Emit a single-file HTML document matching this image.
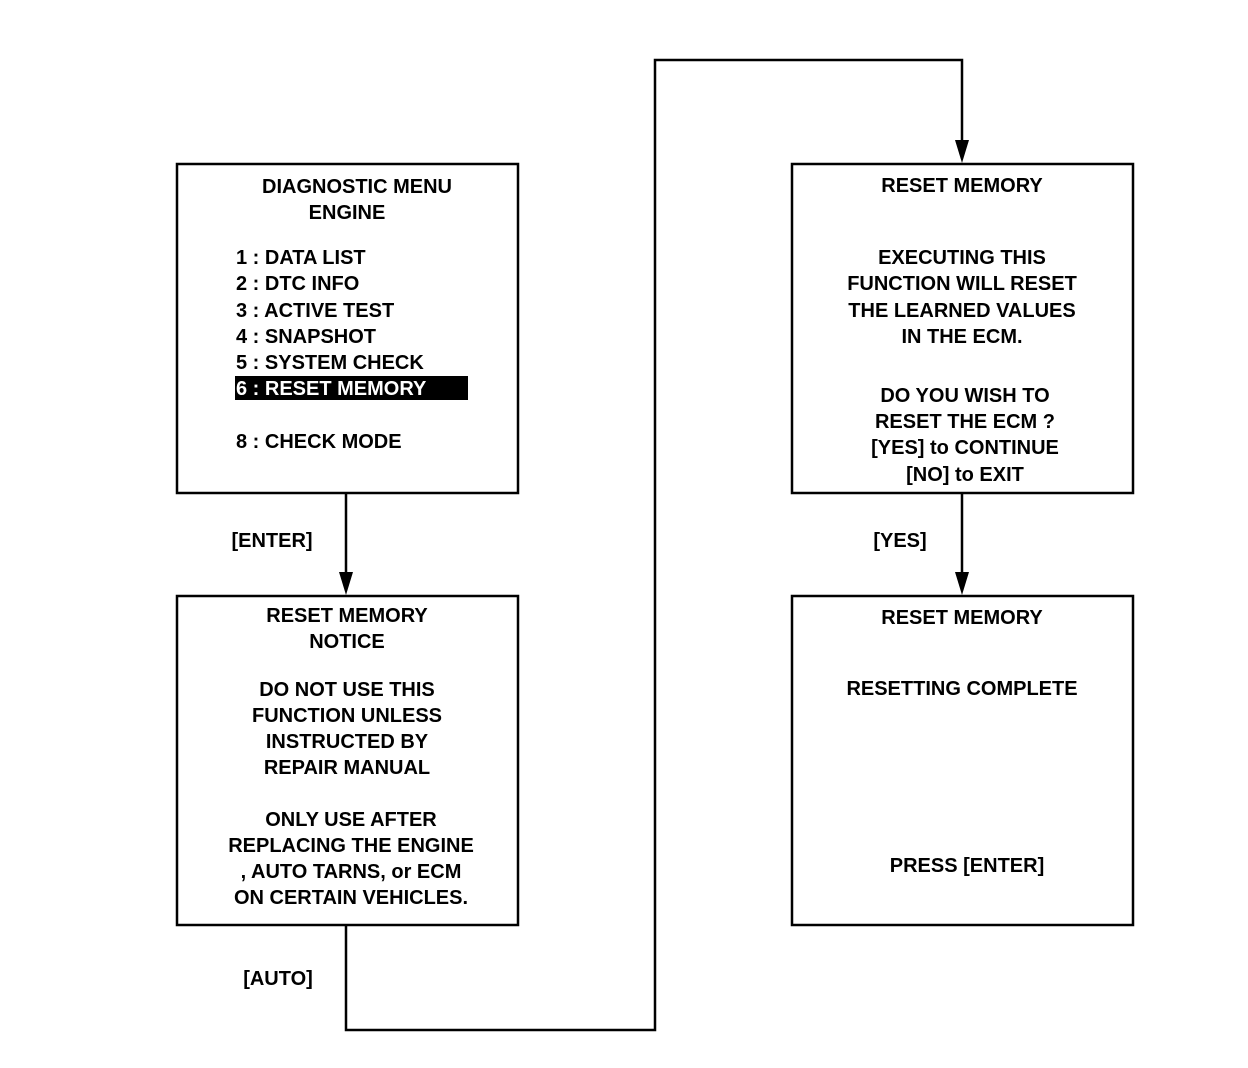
<!DOCTYPE html>
<html><head><meta charset="utf-8"><style>html,body{margin:0;padding:0;background:#fff}svg{display:block}</style></head>
<body>
<svg width="1248" height="1068" viewBox="0 0 1248 1068" xmlns="http://www.w3.org/2000/svg" font-family="Liberation Sans, Arial, sans-serif" font-weight="bold" font-size="20" fill="#000">
<g fill="none" stroke="#000" stroke-width="2.5">
<rect x="177" y="164" width="341" height="329"/>
<rect x="177" y="596" width="341" height="329"/>
<rect x="792" y="164" width="341" height="329"/>
<rect x="792" y="596" width="341" height="329"/>
<polyline points="346,493 346,580"/>
<polyline points="346,925 346,1030 655,1030 655,60 962,60 962,148"/>
<polyline points="962,493 962,580"/>
</g>
<polygon points="339,572 353,572 346,595"/>
<polygon points="955,140 969,140 962,163"/>
<polygon points="955,572 969,572 962,595"/>
<g text-anchor="middle" xml:space="preserve">
<text x="357" y="193">DIAGNOSTIC  MENU</text>
<text x="347" y="219">ENGINE</text>
<text x="347" y="622">RESET  MEMORY</text>
<text x="347" y="648">NOTICE</text>
<text x="347" y="696">DO  NOT  USE  THIS</text>
<text x="347" y="722">FUNCTION  UNLESS</text>
<text x="347" y="748">INSTRUCTED  BY</text>
<text x="347" y="774">REPAIR  MANUAL</text>
<text x="351" y="826">ONLY  USE  AFTER</text>
<text x="351" y="852">REPLACING  THE  ENGINE</text>
<text x="351" y="878">, AUTO  TARNS,  or  ECM</text>
<text x="351" y="904">ON  CERTAIN  VEHICLES.</text>
<text x="962" y="192">RESET  MEMORY</text>
<text x="962" y="264">EXECUTING  THIS</text>
<text x="962" y="290">FUNCTION  WILL  RESET</text>
<text x="962" y="317">THE  LEARNED  VALUES</text>
<text x="962" y="343">IN  THE  ECM.</text>
<text x="965" y="402">DO  YOU  WISH  TO</text>
<text x="965" y="428">RESET  THE  ECM ?</text>
<text x="965" y="454">[YES]  to  CONTINUE</text>
<text x="965" y="481">[NO]  to  EXIT</text>
<text x="962" y="624">RESET  MEMORY</text>
<text x="962" y="695">RESETTING  COMPLETE</text>
<text x="967" y="872">PRESS  [ENTER]</text>
<text x="272" y="547">[ENTER]</text>
<text x="278" y="985">[AUTO]</text>
<text x="900" y="547">[YES]</text>
</g>
<rect x="235" y="376" width="233" height="24" fill="#000"/>
<g xml:space="preserve">
<text x="236" y="264">1 :  DATA  LIST</text>
<text x="236" y="290">2 :  DTC  INFO</text>
<text x="236" y="317">3 :  ACTIVE TEST</text>
<text x="236" y="343">4 :  SNAPSHOT</text>
<text x="236" y="369">5 :  SYSTEM  CHECK</text>
<text x="236" y="395" fill="#fff">6 :  RESET  MEMORY</text>
<text x="236" y="448">8 :  CHECK  MODE</text>
</g>
</svg>
</body></html>
